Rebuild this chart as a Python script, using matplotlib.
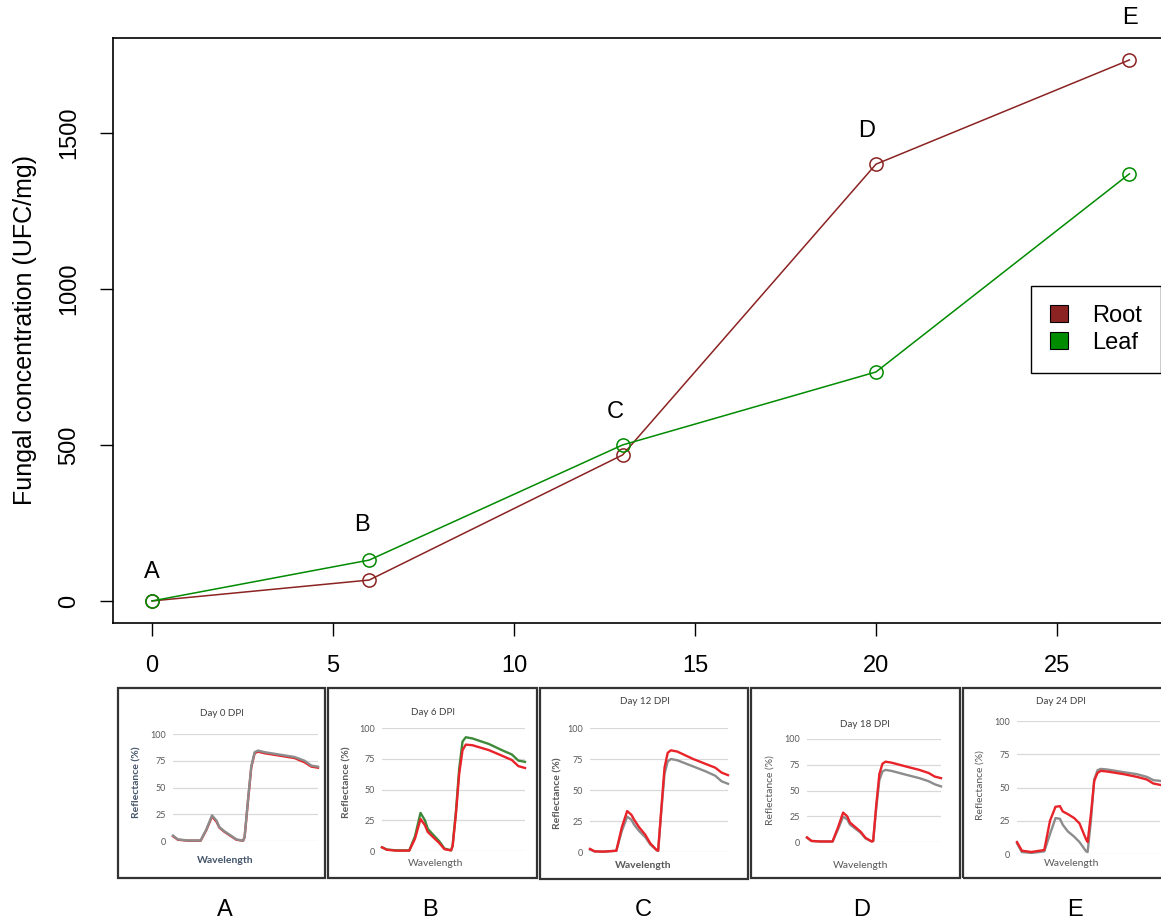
import matplotlib
matplotlib.use("Agg")
import matplotlib.pyplot as plt
from matplotlib.patches import Patch, Rectangle

# ---------------------------------------------------------------- data
days = [0, 6, 13, 20, 27]
root_ufc = [0, 67, 468, 1400, 1734]
leaf_ufc = [0, 131, 500, 734, 1369]
stage_labels = ["A", "B", "C", "D", "E"]
x_ticks = [0, 5, 10, 15, 20, 25]
y_ticks = [0, 500, 1000, 1500]

# reflectance spectra (%) sampled at these wavelengths (nm)
wavelength_nm = [350, 372, 415, 474, 500, 525, 545, 558, 581, 610, 634, 664,
                 671, 686, 701, 716, 731, 761, 836, 895, 940, 970, 1000]
day0_grey = [5, 1.5, 0.5, 0.5, 11, 24, 19, 13, 9, 5, 1.5, 0.3,
             4, 38, 70, 83, 84.5, 83, 80.5, 78.5, 75, 70.5, 69.5]
day0_red = [4.5, 1.2, 0.3, 0.3, 10.5, 23, 18, 12.5, 8.5, 4.5, 1.2, 0.2,
            3.5, 37, 69, 82, 83.5, 82, 79.5, 77.5, 73.5, 69.5, 68.5]
day6_green = [3, 1.2, 0.5, 0.5, 12, 31, 25, 18, 13.5, 8, 2, 0.5,
              4.5, 32, 67, 89, 92.5, 91.5, 87, 82, 78.5, 73.5, 72.5]
day6_red = [3, 1, 0.3, 0.3, 10, 26, 21, 15.5, 11.5, 6.5, 1.5, 0.5,
            4, 30, 63, 82, 86.5, 86, 82, 77.5, 74, 69, 67.5]
day12_grey = [2, 0.5, 0.3, 1, 17, 28.5, 26, 22, 17, 12, 6, 1.5,
              1, 33, 63, 73, 75, 74, 69, 65, 61.5, 57, 55]
day12_red = [2.5, 0.5, 0.3, 1, 20, 33, 30, 26, 20, 14, 7, 1.5,
             1, 35, 68, 80, 82, 81, 75, 71, 68, 64, 62]
day18_grey = [4, 1, 0.5, 0.5, 12, 24.5, 22, 17, 13.5, 9, 3.5, 0.5,
              1, 33, 60, 68.5, 70, 69, 65, 62, 59, 56, 54]
day18_red = [4.5, 1, 0.5, 0.5, 14, 28.5, 25, 19, 15, 10, 4, 0.5,
             1, 36, 66, 76, 78, 77, 73, 70, 67, 63.5, 62]
day24_grey = [8, 1.5, 0.8, 2, 15, 27, 26.5, 22, 17, 13, 9, 2,
              1.5, 25, 56, 63, 64, 63.5, 61.5, 60, 58, 55.5, 55]
day24_red = [9, 2.5, 1.5, 3, 25, 35.5, 36, 32, 30, 27, 23, 11,
             9, 30, 55, 61, 62.5, 62, 60, 58, 56, 53, 52]
refl_ticks = [0, 25, 50, 75, 100]

panel_titles = ["Day 0 DPI", "Day 6 DPI", "Day 12 DPI", "Day 18 DPI", "Day 24 DPI"]
panel_spectra = [
    [(day0_red, "red"), (day0_grey, "grey")],
    [(day6_green, "green"), (day6_red, "red")],
    [(day12_grey, "grey"), (day12_red, "red")],
    [(day18_grey, "grey"), (day18_red, "red")],
    [(day24_grey, "grey"), (day24_red, "red")],
]

# ---------------------------------------------------------------- style
W, H, DPI = 1161, 922, 100
ROOT = "#8B2323"
LEAF = "#008B00"
SPEC_COLORS = {"red": "#E8232A", "grey": "#8C8C8C", "green": "#3F8A3A"}
MAIN_FONT = ["Liberation Sans", "DejaVu Sans"]
PANEL_FONT = ["Lato", "DejaVu Sans"]

plt.rcParams["font.family"] = MAIN_FONT


def fig_rect(x0, y0, x1, y1):
    """Pixel box (top-left origin) -> figure fraction rect."""
    return [x0 / W, 1 - y1 / H, (x1 - x0) / W, (y1 - y0) / H]


fig = plt.figure(figsize=(W / DPI, H / DPI), dpi=DPI)
fig.patch.set_facecolor("white")

# ---------------------------------------------------------------- main chart
ax = fig.add_axes(fig_rect(112.9, 38.3, 1168.5, 622.6))
ax.set_xlim(-1.08, 28.08)
ax.set_ylim(-69.4, 1803.4)

mk = dict(marker="o", markersize=9.5, markerfacecolor="none", markeredgewidth=1.1)
ax.plot(days, root_ufc, color=ROOT, lw=1.1, markeredgecolor=ROOT, **mk)
ax.plot(days, leaf_ufc, color=LEAF, lw=1.1, markeredgecolor=LEAF, **mk)

for sp in ax.spines.values():
    sp.set_linewidth(1.2)
ax.set_xticks(x_ticks)
ax.set_yticks(y_ticks)
ax.tick_params(length=9.5, width=1.0, labelsize=17, pad=14)
ax.tick_params(axis="y", labelrotation=90, pad=14)
for lab in ax.get_yticklabels():
    lab.set_va("center")

ax.set_ylabel("Fungal concentration (UFC/mg)", fontsize=18, va="center")
ax.yaxis.set_label_coords((25 - 112.9) / 1055.6, 0.5)

# stage letters above each sampling day (offsets in pixels)
letter_offsets = [(0, 29), (-7, 35), (-7, 33), (-9, 33), (1, 42)]
for d, r, l, s, off in zip(days, root_ufc, leaf_ufc, stage_labels, letter_offsets):
    ax.annotate(s, xy=(d, max(r, l)), xytext=off, textcoords="offset pixels",
                ha="center", va="center", fontsize=17, color="black")

leg = ax.legend(
    handles=[Patch(facecolor=ROOT, edgecolor="black", lw=0.8, label="Root"),
             Patch(facecolor=LEAF, edgecolor="black", lw=0.8, label="Leaf")],
    loc="upper left", bbox_to_anchor=(1031 / W, 1 - 286 / H),
    bbox_transform=fig.transFigure, fontsize=17, fancybox=False,
    edgecolor="black", framealpha=1, handlelength=0.75, handleheight=0.75,
    handletextpad=1.05, borderpad=0.8, labelspacing=0.2, borderaxespad=0)
leg.get_frame().set_linewidth(1.0)

# ---------------------------------------------------------------- spectra panels
panel_layout = [
    dict(box=(118, 688, 325, 878), plot=(173, 734, 318, 841), title=(222, 713),
         ylab=(137, 782), xlab=(225, 860), letter=(225, 910),
         ybold=True, xbold=True, tcolor="#44546A"),
    dict(box=(328, 688, 537, 878), plot=(382, 728, 525, 851), title=(433, 712),
         ylab=(347, 782), xlab=(436, 863), letter=(430, 910),
         ybold=True, xbold=False, tcolor="#595959"),
    dict(box=(540, 688, 748, 879), plot=(590, 728, 728, 852), title=(645, 701),
         ylab=(558, 793), xlab=(643, 865), letter=(643, 910),
         ybold=True, xbold=True, tcolor="#595959"),
    dict(box=(751, 688, 960, 878), plot=(807, 739, 941, 842), title=(865, 724),
         ylab=(770, 790), xlab=(861, 865), letter=(862, 910),
         ybold=False, xbold=False, tcolor="#595959"),
    dict(box=(963, 688, 1180, 878), plot=(1017, 721, 1160, 854), title=(1061, 701),
         ylab=(980, 785), xlab=(1072, 863), letter=(1075, 910),
         ybold=False, xbold=False, tcolor="#595959"),
]

for title, spectra, lay in zip(panel_titles, panel_spectra, panel_layout):
    bx0, by0, bx1, by1 = lay["box"]
    fig.add_artist(Rectangle((bx0 / W, 1 - by1 / H), (bx1 - bx0) / W, (by1 - by0) / H,
                             transform=fig.transFigure, fill=False,
                             edgecolor="#333333", lw=1.6))
    pax = fig.add_axes(fig_rect(*lay["plot"]))
    pax.set_xlim(wavelength_nm[0], wavelength_nm[-1])
    pax.set_ylim(0, 100)
    pax.set_yticks(refl_ticks)
    pax.set_xticks([])
    pax.yaxis.grid(True, color="#D9D9D9", lw=0.9)
    pax.set_axisbelow(True)
    for sp in pax.spines.values():
        sp.set_visible(False)
    pax.tick_params(axis="y", length=0, pad=5, labelsize=6.5, labelcolor="#595959")
    for lab in pax.get_yticklabels():
        lab.set_fontfamily(PANEL_FONT)
    pax.patch.set_alpha(0)
    for values, cname in spectra:
        pax.plot(wavelength_nm, values, color=SPEC_COLORS[cname], lw=1.7,
                 solid_joinstyle="round", clip_on=False)

    fig.text(lay["title"][0] / W, 1 - lay["title"][1] / H, title, ha="center",
             va="center", fontsize=7, color="#404040", family=PANEL_FONT)
    fig.text(lay["ylab"][0] / W, 1 - lay["ylab"][1] / H, "Reflectance (%)",
             rotation=90, ha="center", va="center", fontsize=7.5,
             color=lay["tcolor"], family=PANEL_FONT,
             fontweight="bold" if lay["ybold"] else "normal")
    fig.text(lay["xlab"][0] / W, 1 - lay["xlab"][1] / H, "Wavelength",
             ha="center", va="center", fontsize=7.5, color=lay["tcolor"],
             family=PANEL_FONT, fontweight="bold" if lay["xbold"] else "normal")

for s, lay in zip(stage_labels, panel_layout):
    fig.text(lay["letter"][0] / W, 1 - lay["letter"][1] / H, s, ha="center",
             va="center", fontsize=17, color="black")

fig.savefig("out.png", dpi=DPI, facecolor="white")
